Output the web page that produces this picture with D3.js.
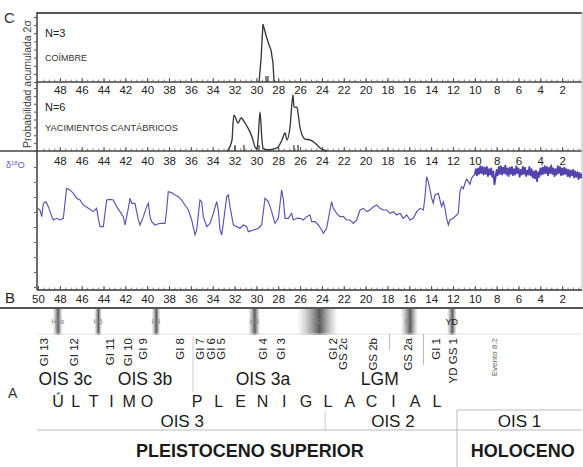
<!DOCTYPE html>
<html><head><meta charset="utf-8">
<script src="https://cdn.jsdelivr.net/npm/d3@7"></script>
<style>
body{margin:0;background:#fff}
svg{display:block}
text{font-family:"Liberation Sans",Arial,sans-serif}
</style>
</head><body>
<svg id="c" width="583" height="467"></svg>
<script>
// ---------- DATA ----------
const topTicks = [48,46,44,42,40,38,36,34,32,30,28,26,24,22,20,18,16,14,12,10,8,6,4,2];
const bottomTicks = [50,48,46,44,42,40,38,36,34,32,30,28,26,24,22,20,18,16,14,12,10,8,6,4,2];

// Coímbre summed probability (age ka, relative probability)
const coimbre = [[29.76,0],[29.58,0.34],[29.4,0.89],[29.3,0.83],[29.12,0.72],[28.94,0.62],[28.66,0.49],[28.48,0.29],[28.39,0.03],[28.3,0]];
const coimbreDates = [29.12,28.94];

// Yacimientos cantábricos summed probability
const cantabria = [[32.69,0],[32.6,0.016],[32.23,0.175],[32.14,0.444],[32.05,0.571],[31.68,0.444],[31.41,0.524],[31.04,0.444],[30.77,0.365],[30.4,0.222],[30.13,0.063],[29.95,0.032],[29.85,0.175],[29.67,0.619],[29.49,0.175],[29.4,0.048],[29.03,0.016],[28.11,0.048],[27.66,0.175],[27.38,0.286],[27.2,0.175],[26.92,0.381],[26.65,0.889],[26.56,0.698],[26.28,0.698],[26.19,0.603],[26.01,0.381],[25.82,0.254],[25.55,0.19],[25.09,0.175],[24.63,0.127],[24.18,0.048],[23.53,0]];
const cantabriaDates = [31.96,31.14,29.76,26.56,26.19];

// δ18O record, glacial part (age ka, permil)
const d18oGlacial = [[50.03,-39.5],[49.82,-39.73],[49.66,-40.62],[49.51,-38.84],[49.27,-38.62],[49.05,-39.29],[48.84,-40.18],[48.6,-41.06],[48.29,-40.84],[47.99,-41.06],[47.68,-40.84],[47.53,-38.84],[47.38,-36.84],[47.07,-37.06],[46.76,-37.51],[46.46,-38.17],[46.15,-38.4],[45.85,-39.06],[45.39,-39.51],[44.93,-39.95],[44.63,-39.51],[44.48,-40.84],[44.32,-41.95],[44.02,-41.95],[43.71,-38.4],[43.41,-38.31],[43.1,-38.4],[42.8,-39.29],[42.49,-39.95],[42.19,-40.62],[42.03,-41.73],[41.73,-39.51],[41.58,-38.17],[41.42,-38.84],[41.12,-38.84],[40.81,-41.06],[40.66,-41.73],[40.35,-40.62],[40.05,-39.29],[39.9,-38.84],[39.74,-40.62],[39.59,-41.28],[39.29,-41.73],[38.83,-41.51],[38.37,-41.51],[38.22,-39.73],[38.07,-37.29],[37.76,-37.42],[37.45,-37.73],[37.15,-37.95],[36.84,-38.4],[36.54,-39.06],[36.23,-39.73],[35.93,-41.06],[35.62,-43.06],[35.47,-42.4],[35.17,-38.4],[35.01,-38.62],[34.86,-40.62],[34.55,-41.95],[34.25,-41.51],[33.94,-40.18],[33.64,-38.62],[33.49,-39.73],[33.33,-42.4],[33.18,-43.06],[33.03,-41.51],[32.72,-37.95],[32.57,-37.73],[32.42,-39.29],[32.11,-41.73],[31.81,-41.95],[31.5,-42.17],[31.2,-41.73],[30.89,-41.95],[30.74,-42.62],[30.28,-42.4],[29.82,-42.17],[29.52,-41.73],[29.21,-38.17],[28.91,-38.62],[28.6,-39.95],[28.3,-41.51],[27.99,-40.84],[27.69,-37.06],[27.53,-38.4],[27.38,-40.84],[27.08,-40.84],[26.77,-40.18],[26.62,-41.06],[26.31,-40.84],[26.01,-40.84],[25.7,-41.06],[25.4,-40.62],[25.09,-40.4],[24.94,-41.28],[24.63,-41.28],[24.33,-41.73],[24.02,-42.4],[23.87,-42.84],[23.57,-42.17],[23.26,-39.73],[23.11,-38.62],[22.96,-39.51],[22.65,-40.18],[22.35,-40.62],[22.04,-40.62],[21.74,-41.06],[21.43,-41.06],[21.12,-41.51],[20.82,-41.06],[20.51,-39.73],[20.21,-39.51],[19.9,-39.95],[19.6,-39.73],[19.29,-39.29],[18.99,-39.06],[18.68,-39.51],[18.38,-39.73],[18.07,-39.73],[17.77,-40.18],[17.46,-39.95],[17.16,-40.4],[16.85,-40.18],[16.55,-40.84],[16.24,-40.4],[15.93,-41.06],[15.63,-40.84],[15.32,-39.95],[15.02,-39.51],[14.71,-39.73],[14.56,-37.95],[14.41,-35.29],[14.26,-35.95],[14.1,-37.06],[13.95,-38.17],[13.8,-38.84],[13.65,-37.73],[13.34,-37.51],[13.19,-38.4],[13.04,-39.29],[12.88,-38.62],[12.73,-39.51],[12.58,-40.84],[12.42,-41.73],[12.27,-41.06],[11.97,-40.84],[11.66,-40.4],[11.51,-40.18],[11.36,-37.29],[11.2,-36.62],[11.05,-36.9],[10.9,-36.17],[10.75,-35.6],[10.59,-35.95],[10.45,-36.3],[10.29,-35.51],[10.15,-35.2]];

// δ18O record, Holocene part, sampled every 0.1 ka from 10.0 ka
const holoceneStart = 10.0, holoceneStep = 0.1;
const d18oHolocene = [-35.0,-34.3,-35.1,-34.2,-34.9,-33.9,-34.8,-34.0,-35.0,-34.1,-34.9,-34.0,-35.2,-34.3,-35.0,-34.2,-35.3,-34.6,-36.3,-35.4,-34.4,-35.1,-34.0,-34.9,-33.9,-35.0,-34.1,-34.8,-33.8,-35.0,-34.2,-35.2,-34.1,-34.9,-34.0,-35.1,-34.3,-35.0,-33.9,-34.8,-34.2,-35.3,-34.4,-35.0,-34.0,-34.9,-34.1,-35.2,-34.5,-35.0,-34.0,-35.1,-34.3,-35.4,-34.6,-35.5,-34.5,-35.9,-34.7,-35.3,-34.2,-35.0,-34.1,-34.9,-33.9,-34.8,-34.0,-35.1,-34.1,-34.8,-33.8,-34.9,-34.2,-35.2,-34.3,-35.0,-33.9,-34.8,-34.0,-35.1,-34.2,-35.0,-34.1,-34.9,-34.3,-35.2,-34.4,-35.3,-34.5,-35.1,-34.4,-35.4,-34.6,-35.3,-34.7,-35.6,-34.8,-35.4,-35.0,-35.6];

// Heinrich events
const heinrichNames = ["H5a","H5","H4","H3","H2","H1","YD"];
const heinrichAges  = [48.2,44.5,39.2,30.2,24.4,16.0,12.1];
const heinrichSpans = [0.9,0.7,0.8,1.1,3.7,1.6,0.9];

// Greenland interstadials / stadials
const giNames = ["GI 13","GI 12","GI 11","GI 10","GI 9","GI 8","GI 7","GI 6","GI 5","GI 4","GI 3","GI 2","GS 2c","GS 2b","GS 2a","GI 1","YD GS 1"];
const giAges  = [49.5,46.7,43.4,41.8,40.4,37.0,35.2,34.2,33.3,29.4,27.8,23.0,22.1,19.3,16.1,13.6,12.0];
const eventName = "Evento 8.2", eventAge = 8.2;

const oisSubNames = ["OIS 3c","OIS 3b","OIS 3a","LGM"];
const oisSubAges  = [47.5,40.2,29.4,18.7];
const oisNames = ["OIS 3","OIS 2","OIS 1"];
const oisAges  = [36.8,17.5,5.9];
const oisBounds = [23.7,11.63];
const periodNames = ["PLEISTOCENO SUPERIOR","HOLOCENO"];
const periodAges  = [30.6,5.6];
const word1 = "ÚLTIMO", word2 = "PLENIGLACIAL";

// ---------- DRAW ----------
const svg = d3.select("#c");
const L = 37, R = 582;
const x = d3.scaleLinear().domain([50,0]).range([38,584]);
const yCoim = d3.scaleLinear().domain([0,1]).range([82,17]);
const yCant = d3.scaleLinear().domain([0,1]).range([151,88]);
const yD = d3.scaleLinear().domain([-50.4,-32]).range([290,152]);
const clipId = "clipB";
svg.append("clipPath").attr("id",clipId).append("rect").attr("x",L).attr("y",152).attr("width",R-L).attr("height",138);

const defs = svg.append("defs");
const grad = defs.append("linearGradient").attr("id","hg").attr("x1",0).attr("x2",1).attr("y1",0).attr("y2",0);
grad.append("stop").attr("offset","0%").attr("stop-color","#888").attr("stop-opacity",0);
grad.append("stop").attr("offset","55%").attr("stop-color","#3c3c3c").attr("stop-opacity",0.85);
grad.append("stop").attr("offset","100%").attr("stop-color","#888").attr("stop-opacity",0);

const tickFont = '"Liberation Sans Narrow","Arial Narrow","Liberation Sans",Arial,sans-serif';

function hline(y, x1, x2, color, w){
  svg.append("line").attr("x1",x1).attr("x2",x2).attr("y1",y).attr("y2",y).attr("stroke",color).attr("stroke-width",w);
}
function vline(xp, y1, y2, color, w){
  svg.append("line").attr("x1",xp).attr("x2",xp).attr("y1",y1).attr("y2",y2).attr("stroke",color).attr("stroke-width",w);
}
function timeAxis(y, vals, pad, up){
  const minor = d3.range(0.5,50,0.5);
  const gm = svg.append("g").attr("transform",`translate(0,${y})`)
    .call(d3.axisBottom(x).tickValues(minor).tickSize(up?-2.5:2.5).tickFormat("").tickSizeOuter(0));
  gm.select(".domain").remove();
  gm.selectAll("line").attr("stroke","#555").attr("stroke-width",0.7);
  const g = svg.append("g").attr("transform",`translate(0,${y})`)
    .call(d3.axisBottom(x).tickValues(vals).tickSize(up?-4:4).tickPadding(pad).tickFormat(d3.format("d")).tickSizeOuter(0));
  g.select(".domain").remove();
  g.selectAll("line").attr("stroke","#444").attr("stroke-width",0.9);
  g.selectAll("text").attr("font-family",tickFont).attr("font-size",11.5).attr("fill","#222");
}

// Panel C frame
hline(13, L, R, "#555", 1.8);
hline(82, L, R, "#444", 1.4);
hline(151, 0, R, "#444", 1.4);
vline(L, 12, 290, "#333", 1.4);
vline(R, 12, 290, "#bbb", 1);
hline(290, L, R, "#333", 1.4);
hline(308, 0, 583, "#555", 2);

timeAxis(82, topTicks, 4, true);
timeAxis(151, topTicks, 6, true);
timeAxis(290, bottomTicks, 5, true);

// left y ticks
[yCoim, yCant].forEach(s=>{
  const g = svg.append("g").attr("transform",`translate(${L},0)`)
    .call(d3.axisLeft(s).tickValues(d3.range(0,1.01,0.125)).tickSize(3).tickFormat("").tickSizeOuter(0));
  g.select(".domain").remove();
  g.selectAll("line").attr("stroke","#555");
});
{
  const g = svg.append("g").attr("transform",`translate(${L},0)`)
    .call(d3.axisLeft(yD).tickValues(d3.range(-50,-32,2)).tickSize(3).tickFormat("").tickSizeOuter(0));
  g.select(".domain").remove();
  g.selectAll("line").attr("stroke","#666");
}

// Panel C curves
const lineC = d3.line().x(d=>x(d[0])).y(d=>yCoim(d[1]));
svg.append("path").datum(coimbre).attr("d",lineC).attr("fill","none").attr("stroke","#333").attr("stroke-width",1.3);
const lineK = d3.line().x(d=>x(d[0])).y(d=>yCant(d[1])).curve(d3.curveMonotoneX);
svg.append("path").datum(cantabria).attr("d",lineK).attr("fill","none").attr("stroke","#333").attr("stroke-width",1.3);
svg.selectAll(".dc").data(coimbreDates).enter().append("line")
  .attr("x1",d=>x(d)).attr("x2",d=>x(d)).attr("y1",yCoim(0)).attr("y2",yCoim(0)-6).attr("stroke","#333").attr("stroke-width",1.2);
svg.selectAll(".dk").data(cantabriaDates).enter().append("line")
  .attr("x1",d=>x(d)).attr("x2",d=>x(d)).attr("y1",yCant(0)).attr("y2",yCant(0)-6).attr("stroke","#333").attr("stroke-width",1.2);

svg.append("text").attr("x",45).attr("y",37).attr("font-size",11).attr("fill","#222").attr("font-family",tickFont).text("N=3");
svg.append("text").attr("x",45).attr("y",61).attr("font-size",9).attr("fill","#333").text("COÍMBRE");
svg.append("text").attr("x",45).attr("y",111).attr("font-size",11).attr("fill","#222").attr("font-family",tickFont).text("N=6");
svg.append("text").attr("x",45).attr("y",131).attr("font-size",9.3).attr("fill","#333").text("YACIMIENTOS CANTÁBRICOS");

svg.append("text").attr("x",4).attr("y",23).attr("font-size",15).attr("fill","#333").text("C");
svg.append("text").attr("transform","translate(31,84) rotate(-90)").attr("text-anchor","middle")
  .attr("font-family",'"Liberation Serif","Times New Roman",serif').attr("font-size",10.5).attr("fill","#444")
  .text("Probabilidad acumulada 2σ");

// Panel B curve
const holo = d18oHolocene.map((v,i)=>[holoceneStart - i*holoceneStep, v]);
const lineD = d3.line().x(d=>x(d[0])).y(d=>yD(d[1]));
svg.append("path").datum(d18oGlacial.concat([holo[0]])).attr("d",lineD).attr("fill","none").attr("stroke","#5d4fb3").attr("stroke-width",1.15)
  .attr("clip-path",`url(#${clipId})`);
svg.append("path").datum(holo).attr("d",lineD).attr("fill","none").attr("stroke","#5344ad").attr("stroke-width",1.9)
  .attr("stroke-linejoin","round").attr("clip-path",`url(#${clipId})`);

const dl = svg.append("text").attr("x",6).attr("y",168).attr("font-size",9).attr("fill","#6a5acd");
dl.append("tspan").text("δ");
dl.append("tspan").attr("dy",-3).attr("font-size",6).text("18");
dl.append("tspan").attr("dy",3).text("O");
svg.append("text").attr("x",5).attr("y",303).attr("font-size",15).attr("fill","#222").text("B");

// Heinrich events
heinrichAges.forEach((a,i)=>{
  const x0 = x(a + heinrichSpans[i]/2), x1 = x(a - heinrichSpans[i]/2);
  svg.append("rect").attr("x",x0).attr("y",309).attr("width",x1-x0).attr("height",26).attr("fill","url(#hg)");
});
heinrichAges.forEach((a,i)=>{
  const yd = heinrichNames[i]==="YD";
  svg.append("text").attr("x",x(a)).attr("y",yd?325:324).attr("text-anchor","middle")
    .attr("font-size",yd?9:7).attr("fill",yd?"#222":"#888").text(heinrichNames[i]);
});

// A section separator lines
hline(334, L, R, "#e2e2e2", 1);
vline(x(35.8), 336, 392, "#ccc", 1);
vline(x(17.8), 334, 350, "#bbb", 1);
vline(x(14.7), 334, 365, "#bbb", 1);
vline(x(oisBounds[0]), 411, 430, "#ccc", 1);
hline(430, L, R, "#bbb", 1);
hline(410, x(oisBounds[1]), R, "#bbb", 1);
vline(x(oisBounds[1]), 410, 467, "#bbb", 1);

// GI labels
giNames.forEach((n,i)=>{
  svg.append("text").attr("transform",`translate(${x(giAges[i])},338) rotate(-90)`)
    .attr("text-anchor","end").attr("dy","0.36em").attr("font-size",11.5).attr("fill","#222").text(n);
});
svg.append("text").attr("transform",`translate(${x(eventAge)},338) rotate(-90)`)
  .attr("text-anchor","end").attr("dy","0.36em").attr("font-size",8).attr("fill","#666").text(eventName);

oisSubNames.forEach((n,i)=>{
  svg.append("text").attr("x",x(oisSubAges[i])).attr("y",385).attr("text-anchor","middle")
    .attr("font-size",17.5).attr("fill","#1a1a1a").text(n);
});
svg.append("text").attr("x",8).attr("y",398).attr("font-size",14).attr("fill","#333").text("A");

function spaced(word, xa, xb, y){
  const chars = Array.from(word);
  const step = (xb - xa)/(chars.length - 1);
  chars.forEach((c,i)=>{
    svg.append("text").attr("x",xa + i*step).attr("y",y).attr("text-anchor","middle")
      .attr("font-size",16).attr("fill","#222").text(c);
  });
}
spaced(word1, 58, 147, 407);
spaced(word2, 197, 437, 407);

oisNames.forEach((n,i)=>{
  svg.append("text").attr("x",x(oisAges[i])).attr("y",427).attr("text-anchor","middle")
    .attr("font-size",17).attr("fill","#1a1a1a").text(n);
});
periodNames.forEach((n,i)=>{
  svg.append("text").attr("x",x(periodAges[i])).attr("y",457).attr("text-anchor","middle")
    .attr("font-size",18).attr("font-weight","bold").attr("fill","#1a1a1a").text(n);
});
</script>
</body></html>
